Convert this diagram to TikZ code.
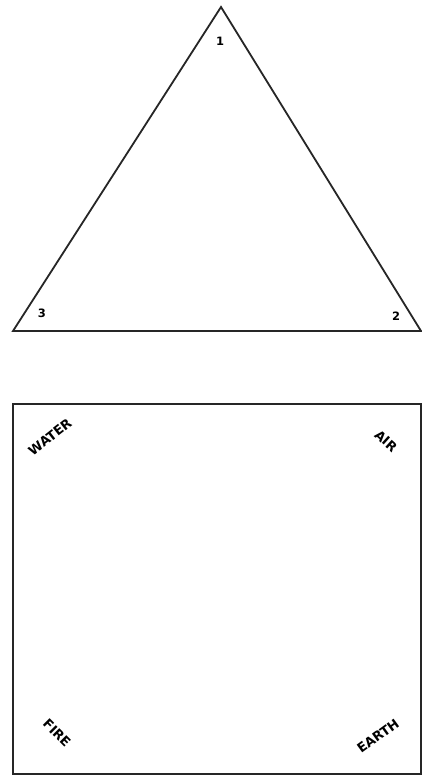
\documentclass[tikz,border=0pt]{standalone}
\usepackage{fontspec}
\setmainfont{DejaVu Sans}
\begin{document}
\begin{tikzpicture}[x=1pt,y=-1pt,
  edge/.style={draw=black!85,line width=1.8pt,line join=miter},
  lbl/.style={font=\bfseries\fontsize{11.5}{11.5}\selectfont,inner sep=0pt},
  elem/.style={font=\bfseries\fontsize{13}{13}\selectfont,inner sep=0pt}]
\useasboundingbox (0,0) rectangle (422,779);
\fill[white] (0,0) rectangle (422,779);
% triangle
\coordinate (t1) at (221,7);
\coordinate (t2) at (421,331);
\coordinate (t3) at (13,331);
\draw[edge] (t1) -- (t2) -- (t3) -- cycle;
\node[lbl] (n1) at (220,41) {1};
\node[lbl] (n3) at (42,313) {3};
\node[lbl] (n2) at (396,316) {2};
% square
\coordinate (s1) at (13,404);
\coordinate (s2) at (421,404);
\coordinate (s3) at (421,774);
\coordinate (s4) at (13,774);
\draw[edge] (s1) -- (s2) -- (s3) -- (s4) -- cycle;
\node[elem,rotate=38] (water) at (50,437) {WATER};
\node[elem,rotate=-42] (air) at (386,441) {AIR};
\node[elem,rotate=-45] (fire) at (57,733) {FIRE};
\node[elem,rotate=36] (earth) at (378,736) {EARTH};
\end{tikzpicture}
\end{document}
